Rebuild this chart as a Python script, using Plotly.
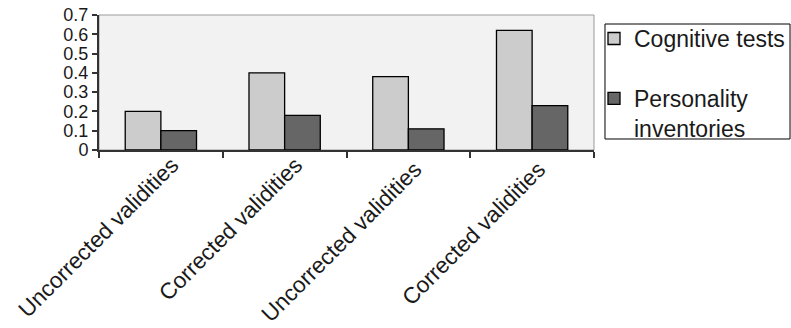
import plotly.graph_objects as go

categories = ["Uncorrected validities", "Corrected validities",
              "Uncorrected validities ", "Corrected validities "]
cognitive = [0.20, 0.40, 0.38, 0.62]
personality = [0.10, 0.18, 0.11, 0.23]
y_ticks = [0, 0.1, 0.2, 0.3, 0.4, 0.5, 0.6, 0.7]
y_ticklabels = ["0", "0.1", "0.2", "0.3", "0.4", "0.5", "0.6", "0.7"]

FONT = "Liberation Sans, Arial, sans-serif"
TEXT = "#1a1a1a"

fig = go.Figure()
fig.add_trace(go.Bar(
    x=categories, y=cognitive, name="Cognitive tests", legendgroup="a",
    marker=dict(color="#cccccc", line=dict(color="#000000", width=1.3)),
))
fig.add_trace(go.Bar(
    x=categories, y=personality, name="Personality<br>inventories", legendgroup="b",
    marker=dict(color="#666666", line=dict(color="#000000", width=1.3)),
))

# light frame along top and right of plotting area
fig.add_shape(type="rect", xref="paper", yref="paper", x0=0, x1=1, y0=0, y1=1,
              line=dict(color="#9a9a9a", width=1), layer="below")
# legend box
fig.add_shape(type="rect", xref="paper", yref="paper",
              x0=1.0222, x1=1.3960, y0=0.0815, y1=0.9333,
              line=dict(color="#000000", width=1), fillcolor="white", layer="below")

fig.update_layout(
    width=791, height=328,
    margin=dict(l=99, r=197, t=15, b=178, autoexpand=False),
    paper_bgcolor="white", plot_bgcolor="#f2f2f2",
    barmode="group", bargap=0.424, bargroupgap=0,
    font=dict(family=FONT, color=TEXT),
    showlegend=True,
    legend=dict(
        x=1.0, y=0.985, xanchor="left", yanchor="top",
        bgcolor="rgba(0,0,0,0)", borderwidth=0,
        font=dict(size=23, family=FONT, color=TEXT),
        tracegroupgap=27, traceorder="grouped", valign="top",
    ),
)
fig.update_xaxes(
    type="category", tickangle=-45, tickson="boundaries",
    ticks="outside", ticklen=6, tickcolor="#333333", tickwidth=1.5,
    showline=True, linecolor="#333333", linewidth=2,
    showgrid=False, automargin=False, ticklabelshift=11, ticklabelstandoff=-9,
    tickfont=dict(size=22.5, family=FONT, color=TEXT),
)
fig.update_yaxes(
    range=[0, 0.7], tickvals=y_ticks, ticktext=y_ticklabels,
    ticks="outside", ticklen=5, tickcolor="#333333", tickwidth=1.5,
    showline=True, linecolor="#333333", linewidth=2,
    showgrid=False, zeroline=False, automargin=False,
    tickfont=dict(size=18, family=FONT, color=TEXT),
)

fig.write_html("out.html")
